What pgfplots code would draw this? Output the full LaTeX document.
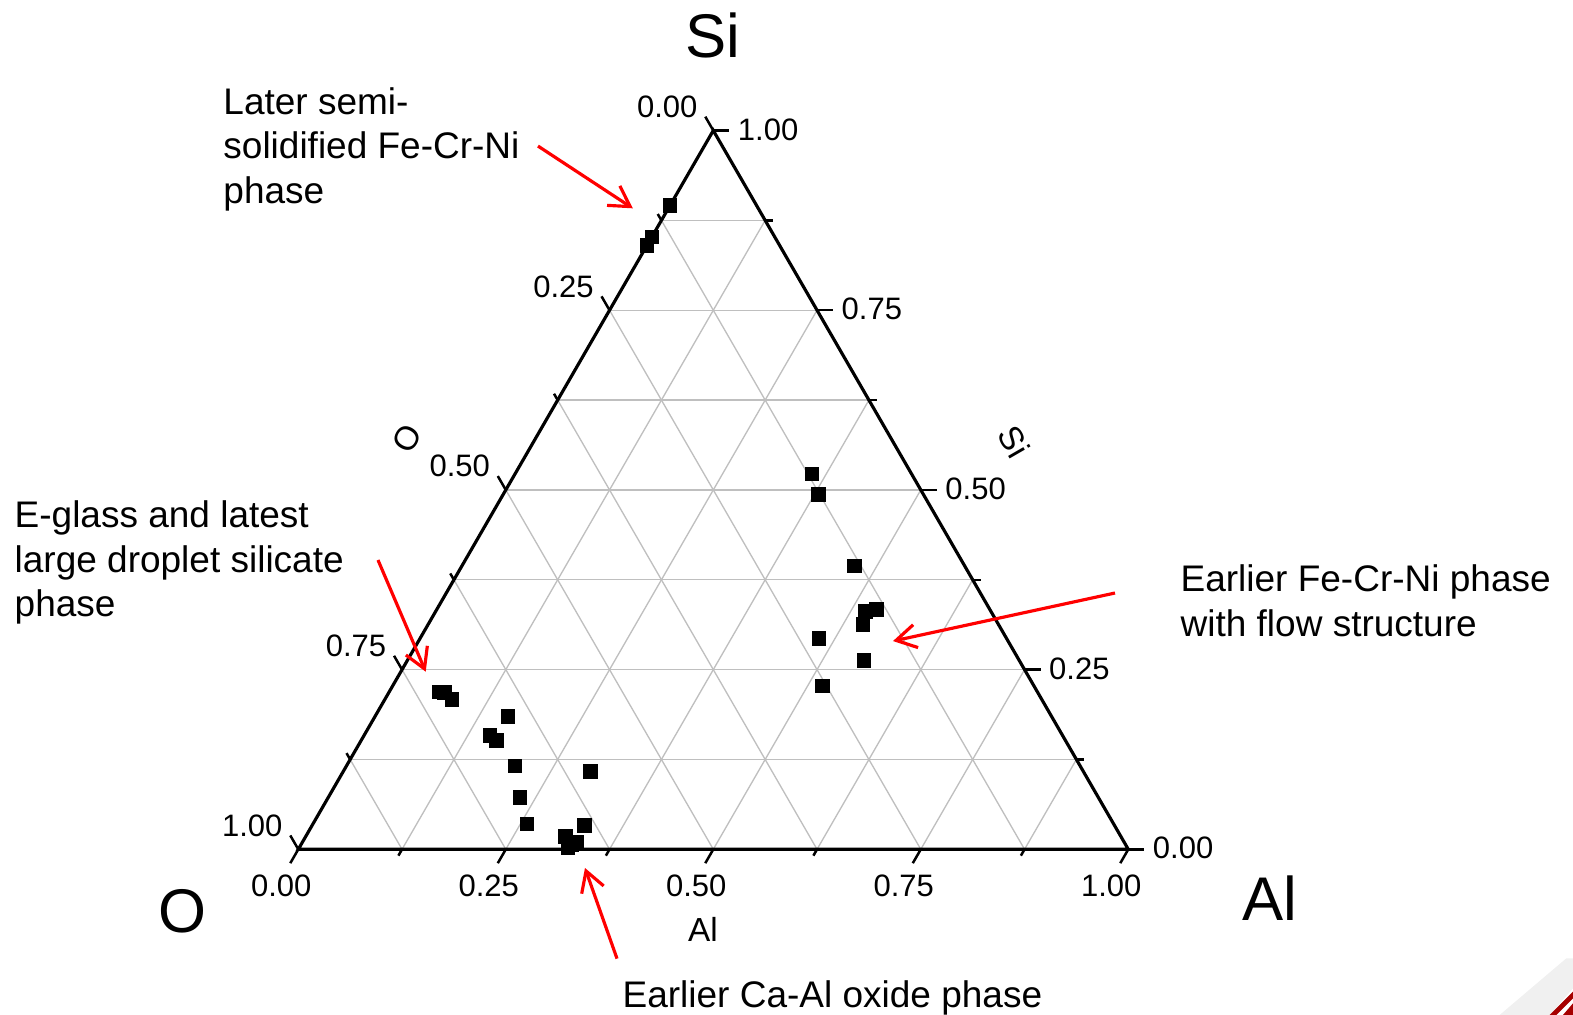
\documentclass[border=0pt]{standalone}
\usepackage{pgfplots}
\pgfplotsset{compat=1.18}
\usepackage{pgfplotstable}
\usepackage{fontspec}
\setmainfont{Liberation Sans}
\usetikzlibrary{arrows.meta}

% ternary data: Al and Si fractions (O = 1 - Al - Si)
\pgfplotstableread{
al si
0.000 0.896
0.000 0.852
0.000 0.840
0.060 0.219
0.067 0.218
0.081 0.208
0.160 0.185
0.152 0.158
0.163 0.151
0.203 0.116
0.231 0.072
0.258 0.035
0.298 0.108
0.328 0.033
0.313 0.018
0.330 0.010
0.324 0.002
0.326 0.006
0.358 0.522
0.380 0.494
0.473 0.394
0.530 0.334
0.518 0.331
0.524 0.313
0.481 0.293
0.550 0.263
0.518 0.227
}\pts

\newcommand{\tickfont}{\fontsize{9.3}{11}\selectfont}
\newcommand{\annfont}{\fontsize{11.1}{13.4}\selectfont}
\newcommand{\bigfont}{\fontsize{18.5}{22}\selectfont}
\newcommand{\gl}[4]{\draw[black!25, line width=0.4pt] (axis cs:#1,#2) -- (axis cs:#3,#4);}
% ticks: bottom (down-left), right (to the right), left (up-left)
\newcommand{\tB}[2]{\draw[line width=0.75pt] (axis cs:#1,0) -- ++(240:#2);}
\newcommand{\tR}[3]{\draw[line width=0.75pt] (axis cs:#1,#2) -- ++(0:#3);}
\newcommand{\tL}[3]{\draw[line width=0.75pt] (axis cs:#1,#2) -- ++(120:#3);}
\newcommand{\lB}[2]{\node[font=\tickfont, inner sep=0pt, xshift=-5.1pt, yshift=-11.1pt] at (axis cs:#1,0) {#2};}
\newcommand{\lR}[3]{\node[font=\tickfont, inner sep=0pt, anchor=west, xshift=7.2pt, yshift=0.3pt] at (axis cs:#1,#2) {#3};}
\newcommand{\lL}[3]{\node[font=\tickfont, inner sep=0pt, xshift=-13.8pt, yshift=7.1pt] at (axis cs:#1,#2) {#3};}

\begin{document}
\begin{tikzpicture}
\begin{axis}[name=ax, hide axis, scale only axis,
  width=471.9pt, height=304.5pt,
  xmin=-0.3594, xmax=1.5358, ymin=-0.1996, ymax=1.0233,
  clip=false]
% grid: constant Si
\gl{0.0625}{0.108253}{0.9375}{0.108253}
\gl{0.125}{0.216506}{0.875}{0.216506}
\gl{0.1875}{0.324760}{0.8125}{0.324760}
\gl{0.25}{0.433013}{0.75}{0.433013}
\gl{0.3125}{0.541266}{0.6875}{0.541266}
\gl{0.375}{0.649519}{0.625}{0.649519}
\gl{0.4375}{0.757772}{0.5625}{0.757772}
% grid: constant Al
\gl{0.125}{0}{0.5625}{0.757772}
\gl{0.25}{0}{0.625}{0.649519}
\gl{0.375}{0}{0.6875}{0.541266}
\gl{0.5}{0}{0.75}{0.433013}
\gl{0.625}{0}{0.8125}{0.324760}
\gl{0.75}{0}{0.875}{0.216506}
\gl{0.875}{0}{0.9375}{0.108253}
% grid: constant O
\gl{0.125}{0}{0.0625}{0.108253}
\gl{0.25}{0}{0.125}{0.216506}
\gl{0.375}{0}{0.1875}{0.324760}
\gl{0.5}{0}{0.25}{0.433013}
\gl{0.625}{0}{0.3125}{0.541266}
\gl{0.75}{0}{0.375}{0.649519}
\gl{0.875}{0}{0.4375}{0.757772}
% triangle
\draw[line width=0.95pt, line join=miter] (axis cs:0,0) -- (axis cs:1,0) -- (axis cs:0.5,0.866025) -- cycle;
% bottom ticks (Al)
\tB{0}{4.8pt}\tB{0.25}{4.8pt}\tB{0.5}{4.8pt}\tB{0.75}{4.8pt}\tB{1}{4.8pt}
\tB{0.125}{2.2pt}\tB{0.375}{2.2pt}\tB{0.625}{2.2pt}\tB{0.875}{2.2pt}
% right ticks (Si)
\tR{1}{0}{4.8pt}\tR{0.875}{0.216506}{4.8pt}\tR{0.75}{0.433013}{4.8pt}\tR{0.625}{0.649519}{4.8pt}\tR{0.5}{0.866025}{4.8pt}
\tR{0.9375}{0.108253}{2.4pt}\tR{0.8125}{0.324760}{2.4pt}\tR{0.6875}{0.541266}{2.4pt}\tR{0.5625}{0.757772}{2.4pt}
% left ticks (O)
\tL{0}{0}{4.8pt}\tL{0.125}{0.216506}{4.8pt}\tL{0.25}{0.433013}{4.8pt}\tL{0.375}{0.649519}{4.8pt}\tL{0.5}{0.866025}{4.8pt}
\tL{0.0625}{0.108253}{2.2pt}\tL{0.1875}{0.324760}{2.2pt}\tL{0.3125}{0.541266}{2.2pt}\tL{0.4375}{0.757772}{2.2pt}
% tick labels
\lB{0}{0.00}\lB{0.25}{0.25}\lB{0.5}{0.50}\lB{0.75}{0.75}\lB{1}{1.00}
\lR{1}{0}{0.00}\lR{0.875}{0.216506}{0.25}\lR{0.75}{0.433013}{0.50}\lR{0.625}{0.649519}{0.75}\lR{0.5}{0.866025}{1.00}
\lL{0.5}{0.866025}{0.00}\lL{0.375}{0.649519}{0.25}\lL{0.25}{0.433013}{0.50}\lL{0.125}{0.216506}{0.75}\lL{0}{0}{1.00}
% axis titles
\node[font=\fontsize{10}{12}\selectfont, inner sep=0pt, rotate=60] at (axis cs:0.1310,0.4955) {O};
\node[font=\fontsize{10}{12}\selectfont, inner sep=0pt, rotate=-60] at (axis cs:0.8620,0.4910) {Si};
\node[font=\fontsize{10}{12}\selectfont, inner sep=0pt] at (axis cs:0.4876,-0.0967) {Al};
% corner labels
\node[font=\bigfont, inner sep=0pt] at (axis cs:0.4996,0.9811) {Si};
\node[font=\bigfont, inner sep=0pt] at (axis cs:-0.1401,-0.0751) {O};
\node[font=\bigfont, inner sep=0pt] at (axis cs:1.1707,-0.0588) {Al};
% data
\addplot[only marks, mark=square*, mark size=2pt, black]
  table[x expr=\thisrow{al}+0.5*\thisrow{si}, y expr=0.866025*\thisrow{si}] {\pts};
% annotations
\node[font=\annfont, align=left, anchor=north west, inner sep=0pt] at (axis cs:-0.0910,0.9187)
  {Later semi-\\solidified Fe-Cr-Ni\\phase};
\node[font=\annfont, align=left, anchor=north west, inner sep=0pt] at (axis cs:-0.3425,0.4208)
  {E-glass and latest\\large droplet silicate\\phase};
\node[font=\annfont, align=left, anchor=north west, inner sep=0pt] at (axis cs:1.0623,0.3437)
  {Earlier Fe-Cr-Ni phase\\with flow structure};
\node[font=\annfont, align=left, anchor=north west, inner sep=0pt] at (axis cs:0.3900,-0.1575)
  {Earlier Ca-Al oxide phase};
% arrows
\draw[red, line width=0.95pt, -{Straight Barb[length=6pt,width=7pt]}] (axis cs:0.2888,0.8473) -- (axis cs:0.4030,0.7723);
\draw[red, line width=0.95pt, -{Straight Barb[length=6pt,width=7pt]}] (axis cs:0.0960,0.3486) -- (axis cs:0.1535,0.2140);
\draw[red, line width=0.95pt, -{Straight Barb[length=6pt,width=7pt]}] (axis cs:0.9840,0.3088) -- (axis cs:0.7165,0.2509);
\draw[red, line width=0.95pt, -{Straight Barb[length=6pt,width=7pt]}] (axis cs:0.3840,-0.1317) -- (axis cs:0.3454,-0.0225);
\end{axis}
% slide-template corner decoration
\fill[black!6] ([xshift=-22pt]ax.south east) -- ([xshift=-2pt,yshift=17pt]ax.south east) -- ([yshift=17pt]ax.south east) -- ([xshift=0pt,yshift=8pt]ax.south east) -- ([xshift=-7pt]ax.south east) -- cycle;
\fill[red!65!black] ([xshift=-7pt]ax.south east) -- ([yshift=7pt]ax.south east) -- ([yshift=5pt]ax.south east) -- ([xshift=-5pt]ax.south east) -- cycle;
\fill[red!65!black] ([xshift=-3pt]ax.south east) -- ([yshift=3.5pt]ax.south east) -- (ax.south east) -- cycle;
\pgfresetboundingbox
\path (ax.south west) rectangle (ax.north east);
\end{tikzpicture}
\end{document}
